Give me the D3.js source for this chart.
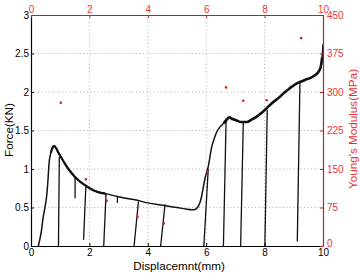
<!DOCTYPE html>
<html>
<head>
<meta charset="utf-8">
<script src="https://cdn.jsdelivr.net/npm/d3@7"></script>
<style>
  body { margin: 0; background: #fff; }
  text { font-family: "Liberation Sans", Arial, Helvetica, sans-serif; }
</style>
</head>
<body>
<div id="chart"></div>
<script>
// force-displacement curve (KN vs mm)
const dispX = [0.25, 0.35, 0.42, 0.5, 0.54, 0.58, 0.62, 0.68, 0.74, 0.79, 0.86, 0.94, 1.05, 1.16, 1.3,
  1.5, 1.7, 1.85, 2.1, 2.3, 2.55, 3.0, 3.4, 3.55, 4.0, 4.5, 5.0, 5.3, 5.5, 5.62, 5.7, 5.78, 5.84,
  5.9, 5.96, 6.07, 6.19, 6.28, 6.36, 6.48, 6.59, 6.7, 6.79, 6.9, 7.04, 7.2, 7.39, 7.55, 7.73,
  7.9, 8.07, 8.3, 8.53, 8.7, 8.87, 9.05, 9.21, 9.4, 9.55, 9.7, 9.84, 9.92, 9.97, 10.0];
const forceY = [0, 0.18, 0.38, 0.55, 0.66, 0.85, 1.08, 1.21, 1.28, 1.30, 1.27, 1.21, 1.14, 1.07, 0.99,
  0.90, 0.83, 0.79, 0.73, 0.70, 0.68, 0.64, 0.61, 0.60, 0.56, 0.53, 0.50, 0.48, 0.47, 0.475, 0.50, 0.56, 0.64,
  0.76, 0.88, 1.03, 1.29, 1.40, 1.48, 1.55, 1.59, 1.64, 1.67, 1.65, 1.63, 1.61, 1.61, 1.64, 1.68,
  1.73, 1.79, 1.87, 1.94, 2.00, 2.05, 2.10, 2.13, 2.16, 2.18, 2.21, 2.26, 2.32, 2.45, 2.62];

// unloading lines: start on the curve, end near zero
const unloadX0 = [0.97, 1.51, 1.88, 2.57, 2.96, 3.68, 4.59, 6.07, 6.68, 7.27, 8.09, 9.21];
const unloadF0 = [1.16, 0.90, 0.79, 0.68, 0.65, 0.58, 0.54, 1.00, 1.62, 1.60, 1.77, 2.12];
const unloadX1 = [0.94, 1.51, 1.80, 2.49, 2.96, 3.53, 4.44, 5.92, 6.59, 7.18, 8.01, 9.12];
const unloadF1 = [0, 0.62, 0.08, 0, 0.56, 0, 0, 0, 0, 0, 0, 0.06];

// Young's modulus (MPa) on top / right axes
const modX = [1.02, 1.88, 2.59, 3.65, 4.55, 6.04, 6.68, 7.27, 8.07, 9.25];
const modVal = [279, 130, 88, 57, 44, 145, 309, 283, 284, 405];

const xTicks = [0, 2, 4, 6, 8, 10];
const yTicks = [0, 0.5, 1, 1.5, 2, 2.5, 3];
const rTicks = [0, 75, 150, 225, 300, 375, 450];

const W = 360, H = 274;
const margin = {top: 15, right: 37, bottom: 28, left: 31};
const width = W - margin.left - margin.right;
const height = H - margin.top - margin.bottom;
const red = '#e8333c';
const darkRed = '#a8282e';

const svg = d3.select('#chart').append('svg')
  .attr('width', W).attr('height', H);
const g = svg.append('g')
  .attr('transform', `translate(${margin.left},${margin.top})`);

const x = d3.scaleLinear().domain([0, 10]).range([0, width]);
const y = d3.scaleLinear().domain([0, 3]).range([height, 0]);
const x2 = d3.scaleLinear().domain([0, 10]).range([0, width]);
const y2 = d3.scaleLinear().domain([0, 450]).range([height, 0]);

// dotted grid
g.append('g').selectAll('line').data(xTicks.slice(1, -1)).enter().append('line')
  .attr('x1', d => x(d)).attr('x2', d => x(d)).attr('y1', 0).attr('y2', height)
  .attr('stroke', '#999').attr('stroke-width', 0.8).attr('stroke-dasharray', '1,2.5');
g.append('g').selectAll('line').data(yTicks.slice(1, -1)).enter().append('line')
  .attr('y1', d => y(d)).attr('y2', d => y(d)).attr('x1', 0).attr('x2', width)
  .attr('stroke', '#999').attr('stroke-width', 0.8).attr('stroke-dasharray', '1,2.5');

// curve
const pts = dispX.map((d, i) => ({x: d, f: forceY[i]}));
const line = d3.line().x(d => x(d.x)).y(d => y(d.f)).curve(d3.curveMonotoneX);
g.append('path').datum(pts).attr('d', line)
  .attr('fill', 'none').attr('stroke', '#111').attr('stroke-width', 1.5);
g.append('path').datum(pts.filter(d => d.x >= 0.68 && d.x <= 2.6)).attr('d', line)
  .attr('fill', 'none').attr('stroke', '#111').attr('stroke-width', 2.2);
g.append('path').datum(pts.filter(d => d.x >= 6.59 && d.x <= 9.97)).attr('d', line)
  .attr('fill', 'none').attr('stroke', '#111').attr('stroke-width', 2.6);

g.append('g').selectAll('line').data(unloadX0).enter().append('line')
  .attr('x1', (d, i) => x(d)).attr('y1', (d, i) => y(unloadF0[i]))
  .attr('x2', (d, i) => x(unloadX1[i])).attr('y2', (d, i) => y(unloadF1[i]))
  .attr('stroke', '#111').attr('stroke-width', 1.3);

// modulus dots
g.append('g').selectAll('circle').data(modX).enter().append('circle')
  .attr('cx', d => x2(d)).attr('cy', (d, i) => y2(modVal[i]))
  .attr('r', 1.3).attr('fill', '#e02020');

// axes
function style(sel, col, txtCol) {
  sel.selectAll('path').attr('stroke', col).attr('stroke-width', 1.2);
  sel.selectAll('line').attr('stroke', col);
  sel.selectAll('text').attr('fill', txtCol).style('font-size', '10px')
    .style('font-family', '"Liberation Sans", Arial, sans-serif');
}

const axBottom = g.append('g').attr('transform', `translate(0,${height})`)
  .call(d3.axisBottom(x).tickValues(xTicks).tickSize(-3).tickSizeOuter(0).tickPadding(3));
style(axBottom, '#000', '#000');

const axLeft = g.append('g')
  .call(d3.axisLeft(y).tickValues(yTicks).tickFormat(d3.format('')).tickSize(-3).tickSizeOuter(0).tickPadding(2));
style(axLeft, '#000', '#000');

const axTop = g.append('g')
  .call(d3.axisTop(x2).tickValues(xTicks).tickSize(-3).tickSizeOuter(0).tickPadding(2));
style(axTop, darkRed, red);

const axRight = g.append('g').attr('transform', `translate(${width},0)`)
  .call(d3.axisRight(y2).tickValues(rTicks).tickSize(-3).tickSizeOuter(0).tickPadding(4));
style(axRight, darkRed, red);
// keep the right "0" clear of the bottom "10"
axRight.selectAll('.tick text').filter(d => d === 0).attr('dy', '0.05em');

// labels
svg.append('text').attr('x', 179).attr('y', 270).attr('text-anchor', 'middle')
  .style('font-size', '11.7px').text('Displacemnt(mm)');
svg.append('text').attr('transform', 'translate(13,130) rotate(-90)').attr('text-anchor', 'middle')
  .style('font-size', '11.7px').text('Force(KN)');
svg.append('text').attr('transform', 'translate(357,129) rotate(-90)').attr('text-anchor', 'middle')
  .attr('fill', red).style('font-size', '11.7px').text("Young's Modulus(MPa)");
</script>
</body>
</html>
